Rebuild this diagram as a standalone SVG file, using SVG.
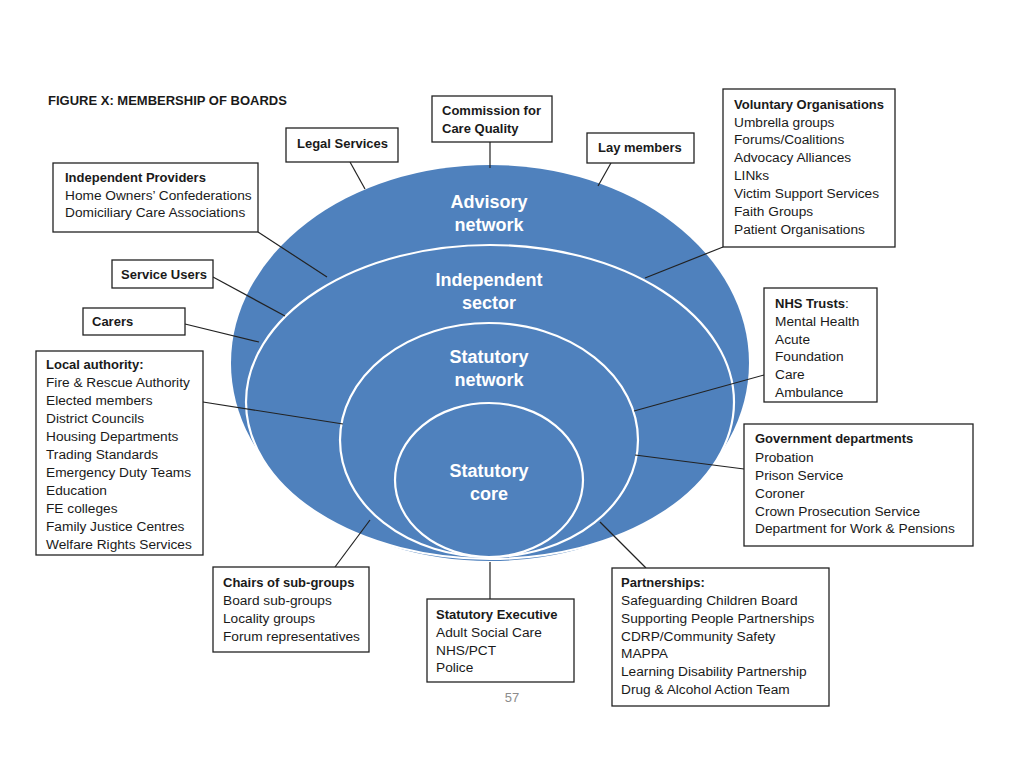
<svg xmlns="http://www.w3.org/2000/svg" width="1024" height="768" viewBox="0 0 1024 768">
<style>
text{font-family:"Liberation Sans",Arial,sans-serif;fill:#1a1a1a}
.t{font-size:13.7px}
.b{font-size:13px;font-weight:bold}
.box{fill:#fff;stroke:#222;stroke-width:1.3}
.ring{fill:#4F81BD;stroke:#fff;stroke-width:2.2}
.lbl{font-size:18px;font-weight:bold;fill:#fff;text-anchor:middle}
.c{stroke:#222;stroke-width:1.2;fill:none}
</style>
<rect width="1024" height="768" fill="#fff"/>
<text x="48" y="105" style="font-size:13px;font-weight:bold">FIGURE X: MEMBERSHIP OF BOARDS</text>
<g id="circles">
<ellipse cx="490" cy="363" rx="259" ry="198" fill="#4F81BD"/>
<ellipse class="ring" cx="490" cy="402" rx="244" ry="157"/>
<ellipse class="ring" cx="489" cy="440" rx="149" ry="117"/>
<ellipse class="ring" cx="489" cy="480" rx="94" ry="77"/>
<text class="lbl" x="489" y="208">Advisory</text>
<text class="lbl" x="489" y="231">network</text>
<text class="lbl" x="489" y="286">Independent</text>
<text class="lbl" x="489" y="309">sector</text>
<text class="lbl" x="489" y="363">Statutory</text>
<text class="lbl" x="489" y="386">network</text>
<text class="lbl" x="489" y="477">Statutory</text>
<text class="lbl" x="489" y="500">core</text>
</g>
<g id="connectors">
<line class="c" x1="350" y1="162" x2="365" y2="189"/>
<line class="c" x1="258" y1="232" x2="327" y2="277"/>
<line class="c" x1="490" y1="142" x2="490" y2="168"/>
<line class="c" x1="611" y1="163" x2="598" y2="186"/>
<line class="c" x1="723" y1="247" x2="645" y2="278"/>
<line class="c" x1="213" y1="277" x2="285" y2="316"/>
<line class="c" x1="185" y1="324" x2="259" y2="342"/>
<line class="c" x1="203" y1="402" x2="343" y2="424"/>
<line class="c" x1="764" y1="375" x2="634" y2="411"/>
<line class="c" x1="744" y1="469" x2="635" y2="455"/>
<line class="c" x1="335" y1="567" x2="370" y2="520"/>
<line class="c" x1="490" y1="599" x2="490" y2="562"/>
<line class="c" x1="646" y1="568" x2="600" y2="522"/>
</g>
<g id="legal-services">
<rect class="box" x="286" y="128" width="112" height="34"/>
<text class="b" x="297" y="148">Legal Services</text>
</g>
<g id="independent-providers">
<rect class="box" x="53" y="163" width="205" height="69"/>
<text class="b" x="65" y="182">Independent Providers</text>
<text class="t" x="65" y="200">Home Owners’ Confederations</text>
<text class="t" x="65" y="217">Domiciliary Care Associations</text>
</g>
<g id="commission">
<rect class="box" x="432" y="96" width="120" height="46"/>
<text class="b" x="442" y="115">Commission  for</text>
<text class="b" x="442" y="133">Care Quality</text>
</g>
<g id="lay-members">
<rect class="box" x="587" y="133" width="107" height="30"/>
<text class="b" x="598" y="152">Lay members</text>
</g>
<g id="voluntary">
<rect class="box" x="723" y="89" width="172" height="158"/>
<text class="b" x="734" y="109">Voluntary Organisations</text>
<text class="t" x="734" y="126.5">Umbrella groups</text>
<text class="t" x="734" y="144">Forums/Coalitions</text>
<text class="t" x="734" y="162">Advocacy Alliances</text>
<text class="t" x="734" y="180">LINks</text>
<text class="t" x="734" y="198">Victim Support Services</text>
<text class="t" x="734" y="216">Faith Groups</text>
<text class="t" x="734" y="233.5">Patient Organisations</text>
</g>
<g id="service-users">
<rect class="box" x="112" y="260" width="101" height="28"/>
<text class="b" x="121" y="279">Service Users</text>
</g>
<g id="carers">
<rect class="box" x="83" y="308" width="102" height="27"/>
<text class="b" x="92" y="326">Carers</text>
</g>
<g id="local-authority">
<rect class="box" x="36" y="351" width="167" height="204"/>
<text class="b" x="46" y="369">Local authority:</text>
<text class="t" x="46" y="387">Fire &amp; Rescue Authority</text>
<text class="t" x="46" y="405">Elected members</text>
<text class="t" x="46" y="423">District Councils</text>
<text class="t" x="46" y="441">Housing Departments</text>
<text class="t" x="46" y="458.5">Trading Standards</text>
<text class="t" x="46" y="477">Emergency Duty Teams</text>
<text class="t" x="46" y="495">Education</text>
<text class="t" x="46" y="513">FE colleges</text>
<text class="t" x="46" y="530.5">Family Justice Centres</text>
<text class="t" x="46" y="548.5">Welfare Rights Services</text>
</g>
<g id="nhs-trusts">
<rect class="box" x="764" y="288" width="113" height="114"/>
<text x="775" y="308"><tspan class="b">NHS Trusts</tspan><tspan class="t">:</tspan></text>
<text class="t" x="775" y="326">Mental Health</text>
<text class="t" x="775" y="343.5">Acute</text>
<text class="t" x="775" y="361">Foundation</text>
<text class="t" x="775" y="379">Care</text>
<text class="t" x="775" y="396.5">Ambulance</text>
</g>
<g id="government">
<rect class="box" x="744" y="424" width="229" height="122"/>
<text class="b" x="755" y="443">Government departments</text>
<text class="t" x="755" y="462">Probation</text>
<text class="t" x="755" y="480">Prison Service</text>
<text class="t" x="755" y="497.5">Coroner</text>
<text class="t" x="755" y="515.5">Crown Prosecution Service</text>
<text class="t" x="755" y="533">Department for Work &amp; Pensions</text>
</g>
<g id="chairs">
<rect class="box" x="213" y="567" width="156" height="85"/>
<text class="b" x="223" y="587">Chairs of sub-groups</text>
<text class="t" x="223" y="605">Board sub-groups</text>
<text class="t" x="223" y="623">Locality groups</text>
<text class="t" x="223" y="641">Forum representatives</text>
</g>
<g id="statutory-executive">
<rect class="box" x="427" y="599" width="147" height="83"/>
<text class="b" x="436" y="619">Statutory Executive</text>
<text class="t" x="436" y="637">Adult Social Care</text>
<text class="t" x="436" y="655">NHS/PCT</text>
<text class="t" x="436" y="672">Police</text>
</g>
<g id="partnerships">
<rect class="box" x="612" y="568" width="217" height="138"/>
<text class="b" x="621" y="587">Partnerships:</text>
<text class="t" x="621" y="605">Safeguarding Children Board</text>
<text class="t" x="621" y="623">Supporting People Partnerships</text>
<text class="t" x="621" y="640.5">CDRP/Community Safety</text>
<text class="t" x="621" y="658">MAPPA</text>
<text class="t" x="621" y="676">Learning Disability Partnership</text>
<text class="t" x="621" y="694">Drug &amp; Alcohol Action Team</text>
</g>
<text x="512" y="702" text-anchor="middle" style="font-size:13px;fill:#8c8c8c">57</text>
</svg>
